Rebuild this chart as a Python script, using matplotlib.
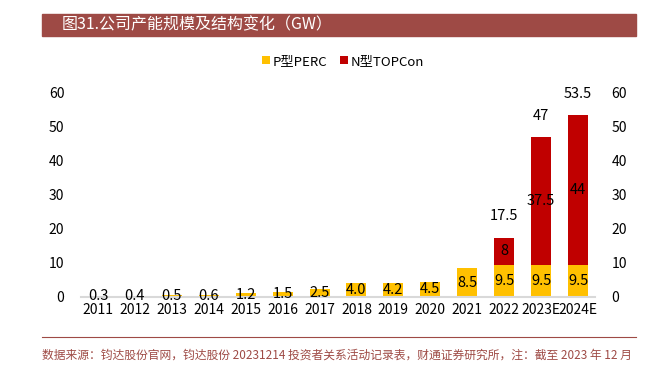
import matplotlib
matplotlib.use("Agg")
import matplotlib.pyplot as plt
from matplotlib.patches import Rectangle
import numpy as np

plt.rcParams['font.family'] = ['Noto Sans CJK SC', 'DejaVu Sans']

years = ["2011", "2012", "2013", "2014", "2015", "2016", "2017", "2018",
         "2019", "2020", "2021", "2022", "2023E", "2024E"]
perc = [0.3, 0.4, 0.5, 0.6, 1.2, 1.5, 2.5, 4.0, 4.2, 4.5, 8.5, 9.5, 9.5, 9.5]
topcon = [0, 0, 0, 0, 0, 0, 0, 0, 0, 0, 0, 8, 37.5, 44]
perc_labels = ["0.3", "0.4", "0.5", "0.6", "1.2", "1.5", "2.5", "4.0",
               "4.2", "4.5", "8.5", "9.5", "9.5", "9.5"]
topcon_labels = ["", "", "", "", "", "", "", "", "", "", "", "8", "37.5", "44"]
total_labels = ["", "", "", "", "", "", "", "", "", "", "", "17.5", "47", "53.5"]
yticks = [0, 10, 20, 30, 40, 50, 60]

C_Y = "#FFC000"
C_R = "#C00000"
BROWN = "#9E4A45"

fig = plt.figure(figsize=(6.62, 3.70), dpi=100)

# banner
fig.patches.append(Rectangle((42/662, 1-36/370), (636-42)/662, 22/370,
                             transform=fig.transFigure, color=BROWN, zorder=0))
fig.text(62/662, 1-25/370, "图31.公司产能规模及结构变化（GW）", color="white",
         fontsize=11.5, va="center", ha="left")
# footer
fig.add_artist(plt.Line2D([42/662, 636/662], [1-337/370, 1-337/370],
                          transform=fig.transFigure, color=BROWN, lw=0.8))
fig.text(42/662, 1-355/370,
         "数据来源：钧达股份官网，钧达股份 20231214 投资者关系活动记录表，财通证券研究所，注：截至 2023 年 12 月",
         color=BROWN, fontsize=8.5, va="center", ha="left")

ax = fig.add_axes([81/662, 73/370, 514/662, 204/370])
x = np.arange(len(years))
w = 0.54
ax.bar(x, perc, w, color=C_Y, label="P型PERC", zorder=2)
ax.bar(x, topcon, w, bottom=perc, color=C_R, label="N型TOPCon", zorder=2)

for i in range(len(years)):
    ax.text(x[i], perc[i] / 2, perc_labels[i], ha="center", va="center",
            fontsize=10.5, color="black", zorder=3)
    if topcon_labels[i]:
        ax.text(x[i], perc[i] + topcon[i] / 2, topcon_labels[i],
                ha="center", va="center", fontsize=10.5, color="black", zorder=3)
    if total_labels[i]:
        ax.text(x[i], perc[i] + topcon[i] + 6.2, total_labels[i],
                ha="center", va="center", fontsize=10.5, color="black",
                zorder=3, clip_on=False)

ax.set_xlim(-0.46, len(years) - 0.54)
ax.set_ylim(0, 60)
ax.set_xticks(x)
ax.set_xticklabels(years, fontsize=10)
ax.set_yticks(yticks)
ax.set_yticklabels([str(v) for v in yticks], fontsize=10)
ax.tick_params(axis="both", length=0)
ax.tick_params(axis="y", pad=12)
ax.tick_params(axis="x", pad=4)
for s in ["top", "right", "left"]:
    ax.spines[s].set_visible(False)
ax.spines["bottom"].set_color("#D9D9D9")
ax.spines["bottom"].set_linewidth(1.5)

ax2 = ax.twinx()
ax2.set_ylim(0, 60)
ax2.set_yticks(yticks)
ax2.set_yticklabels([str(v) for v in yticks], fontsize=10)
ax2.tick_params(axis="y", length=0, pad=12)
for s in ["top", "right", "left", "bottom"]:
    ax2.spines[s].set_visible(False)

leg = ax.legend(loc="upper center", bbox_to_anchor=(0.51, 1.245), ncol=2,
                frameon=False, fontsize=9.5, handlelength=0.6, handleheight=0.6,
                handletextpad=0.2, columnspacing=1.0)

fig.savefig("out.png", dpi=100)
